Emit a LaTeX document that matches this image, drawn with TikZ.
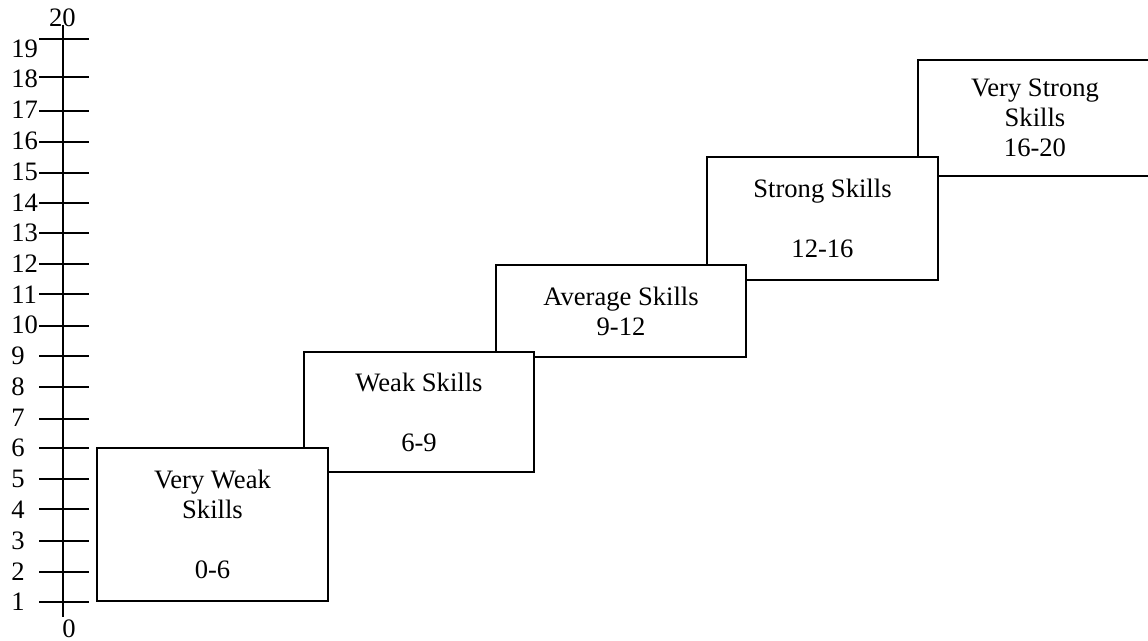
\documentclass[tikz,border=0pt]{standalone}
\usepackage{fontspec}
\setmainfont{Liberation Serif}
\usepackage{tikz}

\tikzset{
  skillbox/.style={draw, fill=white, line width=0.65pt, align=center, inner sep=0pt},
  ticklabel/.style={anchor=west, inner sep=0pt}
}

\begin{document}
\begin{tikzpicture}[x=0.5pt, y=-0.5pt, font=\fontsize{13.3}{15}\selectfont]
\useasboundingbox (0,0) rectangle (1148,641);
% scale axis
\coordinate (axtop) at (63,25);
\coordinate (axbot) at (63,617);
\draw[line width=1pt] (axtop) -- (axbot);
\foreach \t in {602,572,541,509,479,448,419,387,356,326,294,264,233,203,173,142,111,77,39}
  \draw[line width=0.75pt] (39,\t) -- (89,\t);
\foreach \n in {1,...,19}
  \node[ticklabel] (l\n) at (11,{602-(\n-1)*30.75}) {\n};
\node[inner sep=0pt] (ltop) at (62.5,17.5) {20};
\node[inner sep=0pt] (lbot) at (69,629) {0};
% skill levels, drawn top down so the lower boxes lie in front
\node[skillbox, minimum width=117pt, minimum height=58pt] (vstrong) at (1035,118) {Very Strong\\Skills\\16-20};
\node[skillbox, minimum width=115.5pt, minimum height=61.5pt] (strong) at (822.5,218.5) {Strong Skills\\[15pt]12-16};
\node[skillbox, minimum width=125pt, minimum height=46pt] (average) at (621,311) {Average Skills\\9-12};
\node[skillbox, minimum width=115pt, minimum height=60pt] (weak) at (419,412) {Weak Skills\\[15pt]6-9};
\node[skillbox, minimum width=115.5pt, minimum height=76.5pt] (vweak) at (212.5,524.5) {Very Weak\\Skills\\[15pt]0-6};
\end{tikzpicture}
\end{document}
